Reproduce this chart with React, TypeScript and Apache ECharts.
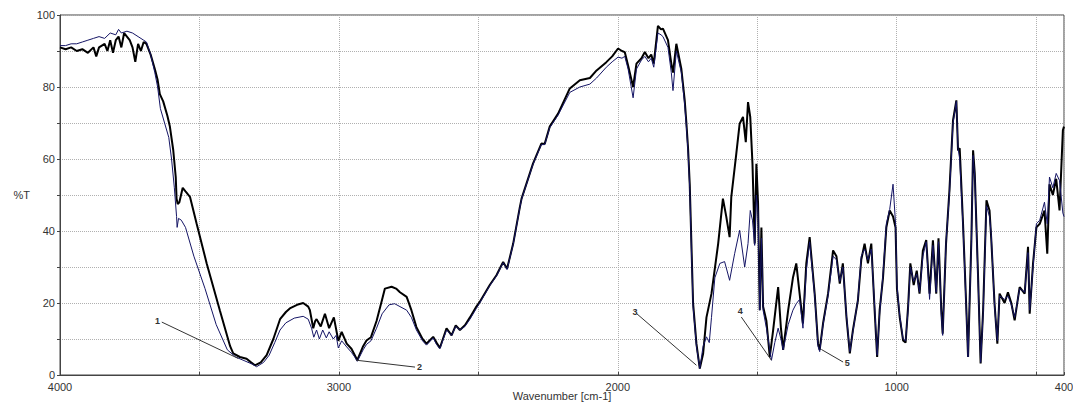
import React, { useEffect, useRef } from 'react';
import * as echarts from 'echarts';

// Sample A (black, thick)
const waveA = [4000,3980,3960,3940,3920,3900,3880,3870,3860,3840,3830,3820,3810,3800,3790,3780,3770,3760,3750,3740,3730,3720,3710,3700,3690,3675,3660,3650,3642,3630,3615,3606,3594,3585,3582,3578,3572,3560,3550,3534,3510,3474,3427,3390,3379,3355,3331,3315,3301,3280,3259,3235,3211,3190,3176,3150,3128,3110,3104,3092,3085,3080,3065,3050,3035,3018,3002,2990,2972,2955,2943,2934,2913,2901,2885,2865,2845,2835,2811,2795,2781,2757,2740,2722,2700,2686,2662,2650,2638,2614,2596,2581,2566,2548,2530,2507,2495,2459,2435,2411,2397,2375,2351,2345,2304,2274,2262,2244,2214,2172,2136,2100,2076,2041,2020,1999,1985,1975,1963,1945,1933,1915,1903,1890,1880,1871,1856,1845,1838,1820,1808,1802,1790,1772,1760,1754,1748,1742,1736,1730,1718,1706,1694,1682,1664,1640,1623,1611,1599,1593,1575,1563,1551,1541,1533,1525,1517,1509,1503,1497,1491,1485,1479,1467,1455,1443,1425,1415,1407,1389,1372,1360,1348,1336,1324,1312,1294,1282,1276,1264,1246,1228,1216,1204,1193,1180,1168,1157,1139,1127,1115,1103,1091,1079,1070,1061,1049,1037,1025,1013,1004,999,989,977,968,959,951,939,928,918,906,894,882,870,858,850,840,835,823,811,798,786,780,774,762,750,744,732,726,720,708,699,690,678,667,661,649,639,631,613,601,589,577,559,541,529,523,511,499,487,470,460,452,440,428,416,404,400];
const transA = [91,90.5,91,90,90.5,89.5,91,88.5,91,92,90,93,89.5,93,94,91,95,94,93,91,87,92,90,92.5,92,89,85,82,78,76,72,69,62.5,55,49,47.5,48,52,51,49.5,42,31,18,8,6,5,4.5,3.5,2.7,3.5,5.5,10,15.5,17.5,18.5,19.5,20,19,18,13,15,15.5,13.5,17,13,16,9.5,12,8.7,7.3,5.5,4.1,8,9.6,10.5,15,21,24,24.5,24,23,21.7,18,13.3,10,8.7,10.6,9,7.5,13,11,13.8,12.5,13.8,16,19,20.3,25,27.7,31.4,29.5,36.5,46.7,49,58.7,64.3,64.2,69,72.6,79.6,81.9,82.5,84.6,86.9,88.5,90.7,90,89.7,86,80,86.5,88,89.7,88,89,86.5,97,96,96.2,93,86.5,84,92,85,76.3,70,63,53,36.5,20,8.7,1.8,5.9,16,22.6,36.5,49,44,38.3,49.4,61.5,69.8,71.7,64.7,75.8,71.7,58.7,36.5,58.7,47.7,18,41,19,15,5,12.4,24.4,13,7,18,27,31,22.6,14.3,31,38.3,22.6,8.7,7,14.3,22.6,34.6,33,25.4,31,16,6,12.4,20.7,32,36.5,31,36.5,18,5,18,27,41,45.7,44,41,24,16,9.6,9,19,31,25,29,22.6,34.6,37.5,22.6,37.4,22.6,38,18,11.5,36.5,51,70.7,76.3,62.4,63,42,18,5,38,62.4,56,27,3.2,18,48.5,45.7,38,19.8,8.7,22.6,20,23,20,15.2,24.4,22.6,35.6,17,31,41,42,45.7,33.7,53,50,54.5,45.7,68,69];

// Sample B (navy, thin)
const waveB = [4000,3980,3960,3940,3920,3900,3880,3860,3840,3820,3800,3790,3780,3760,3740,3720,3700,3690,3675,3660,3650,3640,3625,3610,3600,3590,3582,3580,3575,3565,3550,3520,3480,3440,3400,3370,3340,3310,3295,3270,3250,3230,3211,3190,3160,3128,3110,3098,3090,3080,3070,3058,3045,3035,3020,3010,3002,2990,2972,2955,2943,2934,2913,2901,2885,2865,2845,2820,2800,2781,2757,2740,2722,2700,2686,2662,2650,2638,2614,2596,2581,2566,2548,2530,2507,2495,2459,2435,2411,2397,2375,2351,2345,2304,2274,2262,2244,2214,2172,2136,2100,2076,2041,2020,1999,1985,1975,1963,1945,1933,1915,1903,1890,1880,1871,1856,1845,1838,1820,1808,1802,1790,1772,1760,1754,1748,1742,1736,1730,1718,1706,1694,1682,1672,1664,1652,1634,1617,1599,1581,1563,1545,1533,1525,1517,1509,1503,1497,1491,1485,1479,1467,1449,1437,1425,1415,1407,1389,1372,1360,1348,1336,1324,1312,1294,1282,1276,1264,1246,1228,1216,1204,1193,1180,1168,1157,1139,1127,1115,1103,1091,1079,1070,1061,1049,1037,1025,1013,1004,999,989,977,968,959,951,939,928,918,906,894,882,870,858,850,840,835,823,811,798,786,780,774,762,750,744,732,726,720,708,699,690,678,667,661,649,639,631,613,601,589,577,559,541,529,523,511,499,487,470,460,452,440,428,416,404,400];
const transB = [91.5,91.5,92,92,92.5,93,93.5,94,93.5,95,94.5,96,95,95.5,95,94,93,92.5,89,84,80,74,70,66,60,52,44,41,43.5,43,41,33,24,14,7,5,4,3,2.3,3.5,5.5,9,12.5,14.5,15.8,16.3,15.5,13,10.5,12.5,10,12.5,10.3,12,10,11,7.5,9.5,7.8,6.3,5,3.8,7,8.5,9.5,13,17,19.5,19.8,19,18,16,12.5,9.5,8.3,10.3,8.5,7.3,12.5,11,13.5,12.5,13.5,15.5,18.5,20,24.8,27.5,31.2,29.3,36.3,46.5,48.8,58.5,64,64,68.7,72.2,78.5,80,80.8,82.5,85.5,87,88.3,88,88.5,85,77,85,87.5,88.5,87,88,85.5,95,94.5,94,91,84,79,90,84,75,69,62,52,35,19,8,1.8,8,10.6,9,16,27,31,31.5,26.3,33.7,40.2,30,36.5,45.7,43,36,50,45,18,38,18,13,4.1,9,13,10,7,14,18,19.8,21,13,29,37,22,8,6.5,14,22,33,32,26,30,16.5,6.5,12,21,33,35,32,35,19,5.5,17,28,42,46,53,42,25,16.5,10,9.5,18,30,26,28,23,33,37,21,36,23,37,17,11,37,50,70,76,63,60,41,17,5,37,61,55,26,3.5,17,47,44,39,19,9.5,22,21,22,19.5,16,24,23,34,18,30,42,43,48,42,55,52,56,54,45,44];

const xTickValues = [4000, 3500, 3000, 2500, 2000, 1500, 1000, 500, 400];
const xLabelValues = [4000, 3000, 2000, 1000, 400];

// numbered peak markers: label, label-end point, peak-end point (wavenumber, %T)
const markLabels = ['1', '2', '3', '4', '5'];
const markFrom = [[3635, 14.7], [2727, 2.2], [1933, 17.1], [1557, 16.1], [1192, 3.6]];
const markTo = [[3361, 4.6], [2937, 4.1], [1718, 2.7], [1449, 4.1], [1270, 7.1]];

const FONT = 'Liberation Sans, Arial, Helvetica, sans-serif';

export default function App() {
  const ref = useRef<HTMLDivElement>(null);
  useEffect(() => {
    document.body.style.margin = '0';
    if (!ref.current) return;
    const chart = echarts.init(ref.current, undefined, { renderer: 'svg' });
    const dataA = waveA.map((w, i) => [w, transA[i]]);
    const dataB = waveB.map((w, i) => [w, transB[i]]);
    chart.setOption({
      animation: false,
      backgroundColor: '#ffffff',
      textStyle: { fontFamily: FONT },
      grid: {
        left: 60,
        right: 9,
        top: 15,
        bottom: 27,
        outerBoundsMode: 'none',
        containLabel: false,
        show: true,
        borderColor: '#444',
        borderWidth: 1,
        backgroundColor: 'transparent',
      },
      xAxis: {
        type: 'value',
        min: 400,
        max: 4000,
        inverse: true,
        name: 'Wavenumber [cm-1]',
        nameLocation: 'middle',
        nameGap: 15,
        nameMoveOverlap: false,
        nameTextStyle: { fontSize: 11, color: '#333', fontFamily: FONT },
        axisLine: { show: true, onZero: false, lineStyle: { color: '#444', width: 1 } },
        axisTick: { show: true, inside: true, length: 3, customValues: xTickValues, lineStyle: { color: '#444' } },
        axisLabel: {
          customValues: xLabelValues,
          fontSize: 11,
          color: '#333',
          margin: 6,
          fontFamily: FONT,
          hideOverlap: false,
          formatter: (v: number) => String(v),
        },
        splitLine: { show: true, lineStyle: { type: 'dotted', color: '#b0b0b0', width: 1 } },
      },
      yAxis: {
        type: 'value',
        min: 0,
        max: 100,
        interval: 10,
        name: '%T',
        nameLocation: 'middle',
        nameRotate: 0,
        nameGap: 30,
        nameMoveOverlap: false,
        nameTextStyle: { fontSize: 11, color: '#333', fontFamily: FONT },
        axisLine: { show: true, lineStyle: { color: '#444', width: 1 } },
        axisTick: { show: true, inside: false, length: 3, lineStyle: { color: '#444' } },
        axisLabel: {
          fontSize: 11,
          color: '#333',
          margin: 5,
          fontFamily: FONT,
          formatter: (v: number) => (v % 20 === 0 ? String(v) : ''),
        },
        splitLine: { show: true, lineStyle: { type: 'dotted', color: '#b0b0b0', width: 1 } },
      },
      series: [
        {
          type: 'line',
          name: 'A',
          data: dataA,
          showSymbol: false,
          symbol: 'none',
          lineStyle: { color: '#000000', width: 2 },
          z: 2,
        },
        {
          type: 'line',
          name: 'B',
          data: dataB,
          showSymbol: false,
          symbol: 'none',
          lineStyle: { color: '#151565', width: 1 },
          z: 3,
          markLine: {
            silent: true,
            symbol: ['none', 'none'],
            animation: false,
            lineStyle: { color: '#333', width: 1, type: 'solid' },
            label: {
              show: true,
              position: 'start',
              formatter: '{b}',
              fontSize: 9,
              fontWeight: 'bold',
              color: '#333',
              distance: 2,
            },
            emphasis: { disabled: true },
            data: markLabels.map((lab, i) => [
              { coord: markFrom[i], name: lab },
              { coord: markTo[i] },
            ]),
          },
        },
      ],
    });
    return () => chart.dispose();
  }, []);
  return <div ref={ref} style={{ width: 1073, height: 402 }} />;
}
